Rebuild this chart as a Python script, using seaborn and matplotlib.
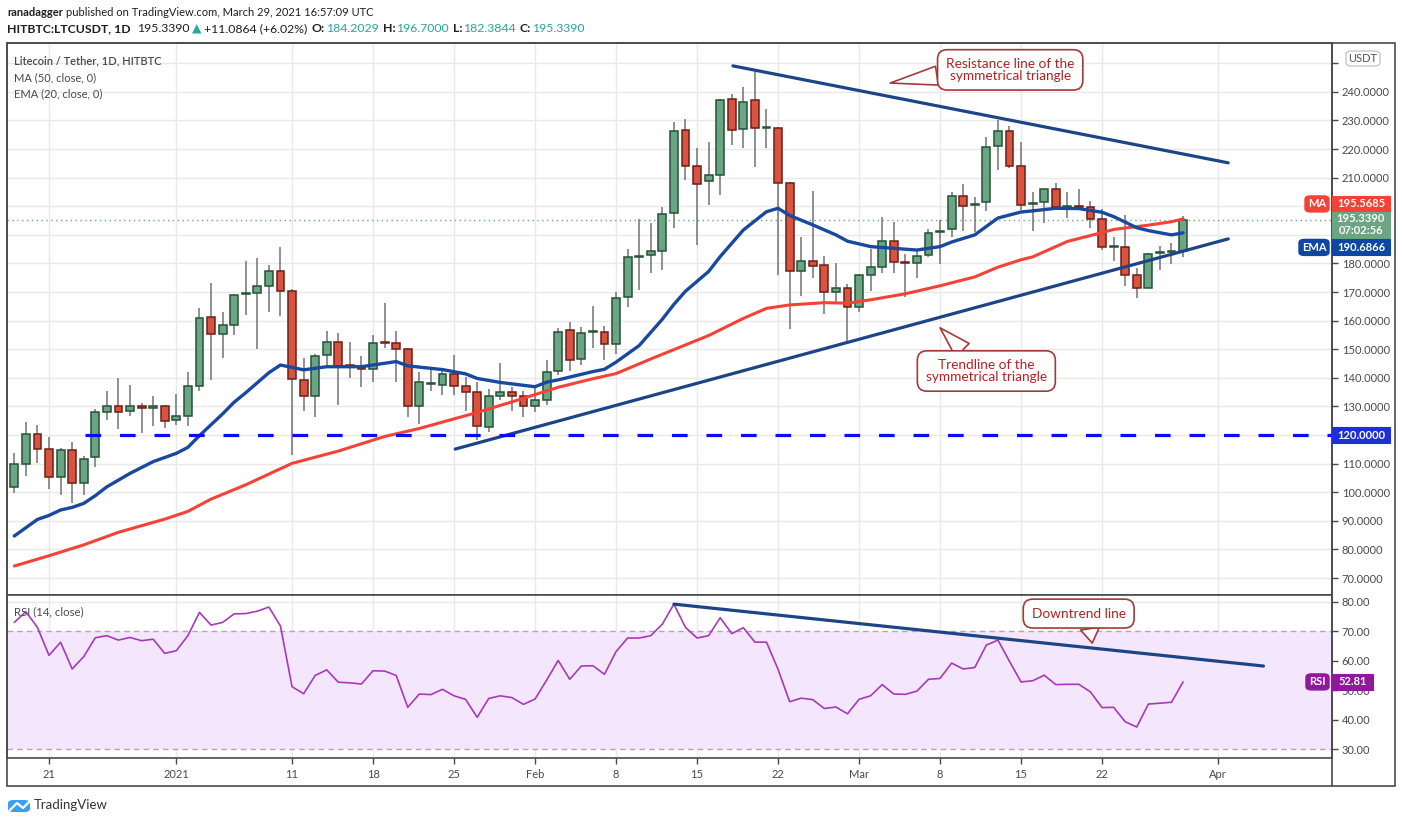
import numpy as np
import pandas as pd
import matplotlib
matplotlib.use("Agg")
import matplotlib.pyplot as plt
import matplotlib.dates as mdates
from matplotlib.patches import Rectangle, FancyBboxPatch
from matplotlib.lines import Line2D
import seaborn as sns

# ---------------- data ----------------
start_date = "2020-12-18"
opens = [101.8, 109.9, 120.2, 115.2, 105.3, 114.8, 103.1, 112.2, 127.9, 130.0,
         128.3, 130.2, 129.3, 130.3, 125.2, 126.6, 137.2, 161.4, 155.5, 158.6,
         169.3, 169.8, 172.2, 177.3, 170.5, 139.3, 133.8, 147.9, 152.5, 144.4,
         143.9, 143.2, 152.4, 152.1, 150.1, 130.0, 138.0, 137.5, 141.2, 137.3,
         135.2, 122.8, 133.5, 134.9, 133.8, 130.0, 132.1, 142.5, 156.9, 146.5,
         155.9, 156.2, 151.7, 168.3, 182.1, 182.8, 184.2, 197.7, 226.8, 214.0,
         208.8, 210.9, 237.6, 227.2, 237.2, 227.4, 227.5, 208.0, 177.2, 180.7,
         179.3, 170.2, 171.6, 164.9, 175.9, 178.6, 187.7, 180.4, 180.0, 182.8,
         191.0, 191.9, 203.5, 200.3, 201.4, 221.0, 226.3, 214.0, 200.9, 201.6,
         206.0, 199.8, 200.0, 199.9, 195.6, 185.7, 185.7, 175.9, 171.4, 183.5,
         183.9, 184.2029]
highs = [113.6, 124.6, 123.4, 119.3, 115.4, 117.7, 112.8, 129.0, 135.5, 139.8,
         137.4, 131.1, 133.6, 130.5, 134.4, 142.2, 164.6, 173.2, 162.9, 169.4,
         180.8, 181.9, 179.3, 185.7, 171.0, 147.0, 148.4, 156.4, 155.7, 152.5,
         147.6, 155.1, 166.1, 156.4, 150.6, 141.9, 143.9, 142.7, 147.9, 140.4,
         138.7, 136.1, 145.3, 136.7, 135.5, 136.8, 146.1, 157.4, 159.4, 157.7,
         165.1, 158.1, 170.0, 185.0, 195.7, 194.0, 199.8, 229.4, 230.6, 220.3,
         222.4, 237.6, 239.2, 241.8, 247.2, 233.9, 227.8, 208.6, 189.2, 205.4,
         182.6, 180.1, 172.8, 176.3, 185.0, 196.2, 194.5, 183.3, 184.7, 192.0,
         195.2, 205.0, 207.8, 203.1, 224.2, 230.2, 228.1, 222.5, 205.1, 206.0,
         208.1, 205.1, 206.0, 201.9, 199.1, 189.2, 196.9, 178.4, 183.6, 186.2,
         187.1, 196.7000]
lows = [99.8, 105.7, 110.2, 101.3, 99.2, 96.1, 99.2, 109.0, 125.4, 122.0,
        126.8, 120.6, 123.0, 122.3, 123.4, 123.3, 135.4, 139.2, 146.8, 154.9,
        162.1, 150.2, 163.1, 161.7, 113.0, 128.3, 126.2, 143.9, 130.6, 139.8,
        136.7, 138.4, 150.4, 138.4, 126.2, 123.7, 135.5, 134.1, 134.1, 128.5,
        118.3, 121.2, 132.1, 128.3, 126.2, 128.0, 130.5, 141.0, 142.3, 144.4,
        150.5, 146.1, 148.4, 164.8, 170.7, 176.5, 177.6, 192.5, 209.1, 186.3,
        200.4, 203.9, 221.5, 220.5, 213.9, 220.5, 175.8, 157.1, 168.7, 174.8,
        162.5, 166.6, 152.6, 163.1, 170.4, 176.7, 176.7, 168.3, 174.8, 182.3,
        179.7, 189.1, 191.5, 191.1, 198.5, 212.6, 213.5, 198.8, 191.2, 194.1,
        199.1, 195.9, 198.8, 192.4, 184.8, 181.0, 172.0, 167.9, 171.4, 177.6,
        179.8, 182.3844]
closes = [109.9, 120.2, 115.2, 105.3, 114.8, 103.1, 111.7, 127.9, 130.0, 127.9,
          130.3, 129.3, 130.3, 124.8, 126.6, 137.2, 161.0, 155.5, 158.6, 169.0,
          169.5, 172.1, 177.3, 170.5, 139.5, 133.8, 147.7, 152.5, 144.2, 143.9,
          143.2, 152.2, 152.1, 150.1, 130.0, 138.7, 138.1, 141.2, 137.3, 135.0,
          123.1, 133.5, 135.2, 133.8, 130.0, 132.4, 142.1, 156.0, 146.1, 155.8,
          156.0, 151.7, 168.0, 182.1, 182.2, 184.2, 197.2, 226.5, 214.0, 207.8,
          210.9, 237.2, 226.8, 236.5, 227.4, 227.5, 208.2, 177.2, 180.9, 179.0,
          170.2, 171.6, 164.9, 175.9, 178.6, 187.7, 180.4, 180.0, 182.6, 190.5,
          191.2, 203.5, 200.0, 200.8, 220.7, 226.3, 214.0, 200.4, 201.3, 206.0,
          199.7, 200.0, 199.8, 195.6, 185.7, 185.8, 175.9, 171.4, 183.3, 183.7,
          184.2, 195.3390]

# MA(50) and EMA(20) (day offset from start, value)
ma_day = [0, 3, 6, 9, 13, 15, 17, 20, 24, 28, 32, 35, 40, 43, 47, 50, 52, 55,
          60, 63, 65, 67, 70, 72, 74, 77, 80, 83, 85, 87, 88, 91, 94, 95, 98, 100, 101]
ma_val = [74.2, 77.8, 81.6, 86.0, 90.6, 93.3, 97.6, 102.6, 110.1, 114.4, 119.5,
          122.3, 127.9, 131.6, 136.7, 139.7, 141.5, 146.6, 154.8, 160.8, 164.3,
          165.5, 166.3, 166.1, 167.3, 169.4, 172.2, 175.3, 178.7, 181.3, 182.3,
          187.7, 190.8, 191.9, 193.4, 194.6, 195.6]
ema_day = [0, 2, 3, 4, 5, 6, 7, 8, 10, 12, 14, 15, 16, 18, 19, 20, 22, 23, 25,
           27, 30, 33, 34, 37, 39, 40, 42, 45, 46, 47, 50, 51, 52, 54, 56, 57,
           58, 60, 61, 63, 65, 66, 67, 69, 71, 72, 74, 76, 78, 80, 81, 83, 85,
           87, 88, 90, 92, 94, 95, 97, 98, 100, 101]
ema_val = [84.7, 90.5, 91.9, 93.8, 94.7, 96.1, 98.8, 101.9, 106.6, 110.7, 113.6,
           115.7, 119.8, 127.4, 131.5, 134.8, 141.8, 144.5, 142.8, 143.9, 143.9,
           145.7, 144.2, 142.9, 141.4, 139.8, 138.4, 136.9, 138.5, 139.3, 142.2,
           143.0, 145.5, 151.3, 160.5, 165.7, 170.3, 177.2, 182.4, 191.7, 198.1,
           199.3, 196.8, 193.5, 190.0, 187.8, 185.9, 185.3, 184.7, 185.9, 187.5,
           190.0, 195.9, 198.0, 198.4, 199.3, 199.2, 197.9, 196.4, 192.5, 191.5,
           190.0, 190.7]

rsi_vals = [73.0, 76.6, 71.3, 61.8, 66.3, 57.2, 61.4, 67.8, 68.5, 67.0,
            67.9, 66.8, 67.3, 62.5, 63.4, 68.5, 76.4, 72.1, 73.0, 75.9,
            76.0, 76.8, 78.2, 71.8, 51.2, 48.8, 55.0, 56.9, 52.7, 52.5,
            52.1, 56.6, 56.5, 55.0, 44.2, 48.7, 48.5, 50.3, 48.1, 46.9,
            40.8, 47.2, 48.1, 47.5, 45.2, 47.0, 53.4, 60.1, 53.7, 58.2,
            58.3, 55.4, 63.1, 67.7, 67.7, 68.5, 72.4, 79.2, 71.3, 67.7,
            68.5, 74.6, 69.2, 71.2, 66.3, 66.3, 57.1, 46.1, 47.3, 46.8,
            43.8, 44.3, 42.0, 46.9, 48.1, 51.9, 48.7, 48.6, 49.7, 53.7,
            54.0, 59.2, 57.2, 57.7, 65.3, 67.0, 59.8, 52.8, 53.2, 55.1,
            51.9, 52.0, 52.0, 49.4, 44.1, 44.2, 39.3, 37.5, 45.3, 45.6,
            45.9, 52.81]

# drawn lines (day offset, value)
resist_day = [62.1, 104.9]
resist_val = [249.1, 215.2]
support_day = [38.1, 104.9]
support_val = [115.1, 188.6]
rsi_trend_day = [57.0, 107.95]
rsi_trend_val = [79.2, 58.2]
level_day = [6.1, 120.0]
level_val = [120.0, 120.0]

tick_dates = ["2020-12-21", "2021-01-01", "2021-01-11", "2021-01-18", "2021-01-25",
              "2021-02-01", "2021-02-08", "2021-02-15", "2021-02-22", "2021-03-01",
              "2021-03-08", "2021-03-15", "2021-03-22", "2021-04-01"]
tick_labels = ["21", "2021", "11", "18", "25", "Feb", "8", "15", "22", "Mar",
               "8", "15", "22", "Apr"]
price_ticks = list(range(70, 260, 10))
hidden_price_labels = [120, 190, 200, 250]   # covered by value boxes
rsi_ticks = [30, 40, 50, 60, 70, 80]

last_price = 195.3390
ma_last = 195.5685
ema_last = 190.6866
rsi_last = 52.81

# ---------------- style ----------------
sns.set_theme(style="white")
plt.rcParams["font.family"] = ["Lato", "DejaVu Sans"]

W, H = 1402, 823
fig = plt.figure(figsize=(W / 100, H / 100), dpi=100)
fig.patch.set_facecolor("white")


def fx(px):
    return px / W


def fy(py):
    return 1 - py / H


L, R = 7, 1332
TOP, MID, BOT, FRAME_B, FRAME_R = 43, 595, 758, 786, 1395
ax = fig.add_axes([fx(L), fy(MID), fx(R - L), (MID - TOP) / H])
ax2 = fig.add_axes([fx(L), fy(BOT), fx(R - L), (BOT - MID) / H], sharex=ax)

d0 = pd.Timestamp(start_date)
n = len(closes)
dates = pd.date_range(d0, periods=n, freq="D")
xnum = mdates.date2num(dates)
x0 = mdates.date2num(d0)


def dnum(days):
    return x0 + np.asarray(days, dtype=float)


GRID = "#e9e9e9"
FRAME = "#4a4a4a"
TXT = "#4a4a4a"

for a in (ax, ax2):
    a.set_facecolor("white")
    a.set_xlim(x0 - 0.63, x0 + 113.87)
    for s in a.spines.values():
        s.set_color(FRAME)
        s.set_linewidth(1.2)
    a.yaxis.tick_right()
    a.tick_params(axis="y", which="both", right=True, left=False, length=4,
                  width=1, color=FRAME, labelsize=8, labelcolor=TXT, pad=3)
    tk = mdates.date2num(pd.to_datetime(tick_dates))
    a.set_xticks(tk)
    for t in tk:
        a.axvline(t, color=GRID, lw=1, zorder=0)

ax.tick_params(axis="x", bottom=False, labelbottom=False)
ax2.set_xticklabels(tick_labels)
ax2.tick_params(axis="x", bottom=True, length=4, width=1, color=FRAME,
                labelsize=8, labelcolor=TXT, pad=4)

# ---------------- main price panel ----------------
ax.set_ylim(64.07, 257.1)
ax.set_yticks(price_ticks)
ax.set_yticklabels(["" if v in hidden_price_labels else f"{v:.4f}" for v in price_ticks])
for v in price_ticks:
    ax.axhline(v, color=GRID, lw=1, zorder=0)

o = np.array(opens); c = np.array(closes); hi = np.array(highs); lo = np.array(lows)
up = c >= o
ax.vlines(xnum, lo, hi, color="#737375", lw=1.1, zorder=2)
body_b = np.minimum(o, c)
body_h = np.maximum(np.abs(c - o), 0.35)
ax.bar(xnum[up], body_h[up], bottom=body_b[up], width=0.68, color="#6ba583",
       edgecolor="#225437", linewidth=1.1, zorder=3)
ax.bar(xnum[~up], body_h[~up], bottom=body_b[~up], width=0.68, color="#d75442",
       edgecolor="#6f1e14", linewidth=1.1, zorder=3)

ax.axhline(last_price, color="#6ba583", lw=1, ls=(0, (1, 2.5)), zorder=1)

sns.lineplot(x=dnum(ma_day), y=ma_val, ax=ax, color="#f44336", lw=2.2, zorder=4)
sns.lineplot(x=dnum(ema_day), y=ema_val, ax=ax, color="#1848a0", lw=2.4, zorder=4)
sns.lineplot(x=dnum(resist_day), y=resist_val, ax=ax, color="#1c4587", lw=2.3, zorder=5)
sns.lineplot(x=dnum(support_day), y=support_val, ax=ax, color="#1c4587", lw=2.3, zorder=5)
ax.plot(dnum(level_day), level_val, color="#0a0aff", lw=2.3,
        dashes=(4.9, 5.9), zorder=5)

# ---------------- RSI panel ----------------
ax2.set_ylim(27.0, 82.3)
ax2.set_yticks(rsi_ticks)
ax2.set_yticklabels([f"{v:.2f}" for v in rsi_ticks])
for v in (40, 50, 60, 80):
    ax2.axhline(v, color=GRID, lw=1, zorder=0)
ax2.axhspan(30, 70, color="#f4e6fd", zorder=0.5, lw=0)
for v in (30, 70):
    ax2.axhline(v, color="#b3a6b3", lw=1, ls=(0, (4, 3)), zorder=1)
sns.lineplot(x=xnum, y=rsi_vals, ax=ax2, color="#a53bb8", lw=1.2, zorder=3)
sns.lineplot(x=dnum(rsi_trend_day), y=rsi_trend_val, ax=ax2, color="#1c4587",
             lw=2.3, zorder=4)
for a in (ax, ax2):
    a.set_xlabel("")
    a.set_ylabel("")
    leg = a.get_legend()
    if leg:
        leg.remove()
ax.set_xlim(x0 - 0.63, x0 + 113.87)

# ---------------- callouts ----------------
CALL_EC = "#a33a3a"
CALL_TC = "#b22222"


def callout(a, text, center, tip, relpos):
    a.annotate(text, xy=(x0 + tip[0], tip[1]), xytext=(x0 + center[0], center[1]),
               textcoords="data", ha="center", va="center", fontsize=9.8,
               color=CALL_TC, linespacing=0.95, zorder=10,
               bbox=dict(boxstyle="round,pad=0.62,rounding_size=0.7", fc="white",
                         ec=CALL_EC, lw=1.2),
               arrowprops=dict(arrowstyle="wedge,tail_width=1.4,shrink_factor=0.5",
                               fc="white", ec=CALL_EC, lw=1.2, relpos=relpos,
                               shrinkA=0, shrinkB=0), annotation_clip=False)


callout(ax, "Resistance line of the\nsymmetrical triangle", (86.06, 247.7),
        (75.69, 243.1), (0.1, 0.4))
callout(ax, "Trendline of the\nsymmetrical triangle", (84.0, 142.4),
        (80.0, 157.5), (0.42, 0.78))
callout(ax2, "Downtrend line", (91.98, 76.0), (93.15, 66.0), (0.6, 0.28))

# ---------------- right-axis label boxes ----------------
def py_of(a, v):
    return H - a.transData.transform((x0, v))[1]


def fig_box(xa, xb, ya, yb, color, text, tcolor="white", bold=True, size=8,
            ec=None, rounded=False):
    if rounded:
        p = FancyBboxPatch((fx(xa), fy(yb)), fx(xb - xa), (yb - ya) / H,
                           boxstyle="round,pad=0,rounding_size=0.004",
                           transform=fig.transFigure, fc=color,
                           ec=ec if ec else color, lw=1, zorder=20)
    else:
        p = Rectangle((fx(xa), fy(yb)), fx(xb - xa), (yb - ya) / H,
                      transform=fig.transFigure, fc=color,
                      ec=ec if ec else color, lw=0.8, zorder=20)
    fig.add_artist(p)
    fig.text(fx((xa + xb) / 2), fy((ya + yb) / 2), text, ha="center", va="center",
             color=tcolor, fontsize=size, fontweight="bold" if bold else "normal",
             zorder=21, linespacing=1.15)


fig.canvas.draw()
ma_py = py_of(ax, ma_last) - 15
fig_box(1332, 1390, ma_py - 8, ma_py + 8, "#f44336", f"{ma_last:.4f}")
fig_box(1305, 1329, ma_py - 8, ma_py + 8, "#f44336", "MA", rounded=True)
lp = py_of(ax, last_price)
fig_box(1332, 1390, lp - 8, lp + 18, "#6ba583", f"{last_price:.4f}\n07:02:56")
ema_py = py_of(ax, ema_last) + 14.5
fig_box(1332, 1390, ema_py - 8, ema_py + 8, "#0d47a1", f"{ema_last:.4f}")
fig_box(1299, 1329, ema_py - 8, ema_py + 8, "#0d47a1", "EMA", rounded=True)
lv = py_of(ax, 120.0)
fig_box(1332, 1390, lv - 8, lv + 8, "#1f2fd6", "120.0000")
rp = py_of(ax2, rsi_last)
fig_box(1332, 1373, rp - 8, rp + 8, "#8e1a9b", f"{rsi_last:.2f}")
fig_box(1306, 1329, rp - 8, rp + 8, "#8e1a9b", "RSI", rounded=True)
fig_box(1346, 1380, 51, 66, "white", "USDT", tcolor="#555555", bold=False,
        ec="#c8c8c8", rounded=True)

# ---------------- frame ----------------
fig.add_artist(Rectangle((fx(L), fy(FRAME_B)), fx(FRAME_R - L), (FRAME_B - TOP) / H,
                         transform=fig.transFigure, fill=False, ec=FRAME, lw=1.2,
                         zorder=15))
fig.add_artist(Line2D([fx(R), fx(R)], [fy(TOP), fy(FRAME_B)],
                      transform=fig.transFigure, color=FRAME, lw=1.2, zorder=15))

# ---------------- texts ----------------
fig.text(fx(14), fy(61), "Litecoin / Tether, 1D, HITBTC", fontsize=8,
         color=TXT, fontweight="semibold", va="center")
fig.text(fx(14), fy(78), "MA (50, close, 0)", fontsize=8, color=TXT, va="center")
fig.text(fx(14), fy(94), "EMA (20, close, 0)", fontsize=8, color=TXT, va="center")
fig.text(fx(14), fy(612), "RSI (14, close)", fontsize=8.2, color=TXT, va="center")

renderer = fig.canvas.get_renderer()
TEAL = "#26a69a"
DARK = "#1f1f1f"


def seq(y, parts, x=7, size=9.2):
    for s, col, bold, gap in parts:
        t = fig.text(fx(x), fy(y), s, fontsize=size, color=col,
                     fontweight="bold" if bold else "normal", va="center")
        x += t.get_window_extent(renderer).width + gap


seq(12, [("ranadagger", DARK, True, 3),
         ("published on TradingView.com, March 29, 2021 16:57:09 UTC", DARK, False, 0)],
    size=8.0)
seq(29, [("HITBTC:LTCUSDT, 1D", DARK, True, 6),
         ("195.3390", DARK, False, 3),
         ("\u25B2", TEAL, False, 3),
         ("+11.0864 (+6.02%)", DARK, False, 4),
         ("O:", DARK, True, 1), ("184.2029", TEAL, False, 4),
         ("H:", DARK, True, 1), ("196.7000", TEAL, False, 4),
         ("L:", DARK, True, 1), ("182.3844", TEAL, False, 4),
         ("C:", DARK, True, 1), ("195.3390", TEAL, False, 0)], size=8.8)

# TradingView logo
fig.add_artist(FancyBboxPatch((fx(8), fy(812)), fx(22), 12 / H,
                              boxstyle="round,pad=0,rounding_size=0.004",
                              transform=fig.transFigure, fc="#3a9ff0", ec="none"))
fig.add_artist(Line2D([fx(10), fx(17), fx(23), fx(30)], [fy(810), fy(803), fy(808), fy(801)],
                      transform=fig.transFigure, color="white", lw=1.6))
fig.text(fx(34), fy(805), "TradingView", fontsize=9.5, color="#333333", va="center")

fig.savefig("out.png", dpi=100)
